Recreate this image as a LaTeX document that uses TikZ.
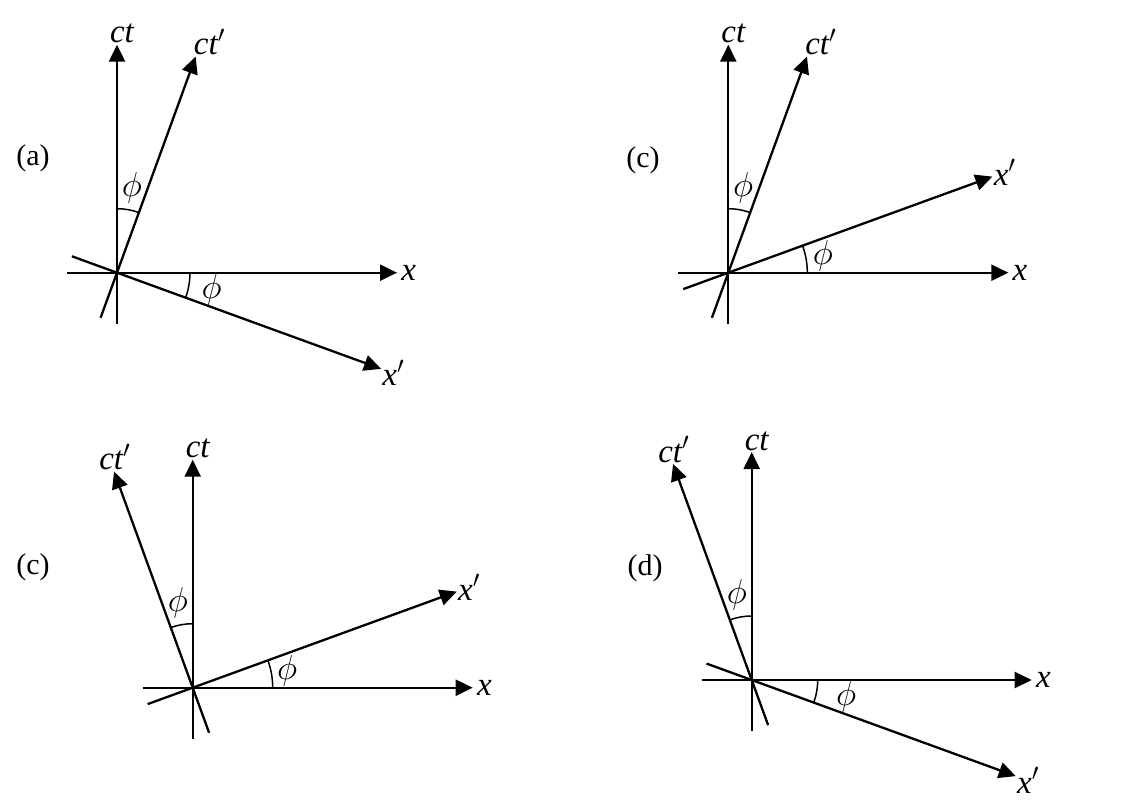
\documentclass[tikz,border=0pt]{standalone}
\usepackage{fontspec}
\setmainfont{Liberation Serif}
\usetikzlibrary{arrows.meta}
\usetikzlibrary{positioning}

\begin{document}
\begin{tikzpicture}[x=0.5pt,y=0.5pt]
\tikzset{axis/.style = {line width=1.15pt, -{Triangle[length=8.5pt,width=8pt]}}}
\tikzset{angarc/.style = {line width=0.75pt}}
\tikzset{lbl/.style = {font=\fontsize{16.5}{18}\selectfont\itshape, inner sep=0pt}}
\tikzset{philbl/.style = {font=\fontsize{18}{20}\selectfont, inner sep=0pt}}
\tikzset{tag/.style = {font=\fontsize{15}{17}\selectfont, inner sep=0pt}}
\useasboundingbox (0,0) rectangle (1127,809);

% one panel per entry: origin, ct' angle, x' angle, x arc radius, ct' label shift, tag
\foreach \ox/\oy/\ta/\xa/\rx/\cs/\tl/\lx/\ly in
  {117/536.3/70/-20/73/7/{(a)}/33/651,
   728.3/536.3/70/20/79/7/{(c)}/643/649,
   192.7/121.3/110/20/80/0.5/{(c)}/33/242,
   751.7/129/110/-20/66/0.5/{(d)}/645/241}
{
\node[tag] (tag) at (\lx,\ly) {\tl};
\begin{scope}[shift={(\ox,\oy)}]
\coordinate (o) at (0,0);
\coordinate (ctEnd) at (90:228);
\coordinate (ctStart) at (-90:51);
\coordinate (ctpEnd) at (\ta:230);
\coordinate (ctpStart) at (\ta+180:48);
\coordinate (xEnd) at (0:280);
\coordinate (xStart) at (180:50);
\coordinate (xpEnd) at (\xa:281);
\coordinate (xpStart) at (\xa+180:48);

\draw[axis] (ctStart) -- (ctEnd);
\draw[axis] (ctpStart) -- (ctpEnd);
\draw[axis] (xStart) -- (xEnd);
\draw[axis] (xpStart) -- (xpEnd);

\draw[angarc] (90:64) arc[start angle=90, end angle=\ta, radius=64];
\draw[angarc] (0:\rx) arc[start angle=0, end angle=\xa, radius=\rx];
\node[philbl] (phiT) at ({(90+\ta)/2}:86) {$\phi$};
\node[philbl] (phiX) at ({\xa/2}:96) {$\phi$};

\node[lbl, above=0.5pt of ctEnd, xshift=2.5pt] (ctLab) {ct};
\node[lbl, above=0.5pt of ctpEnd, xshift=\cs pt] (ctpLab) {ct$'$};
\node[lbl, right=2pt of xEnd] (xLab) {x};
\node[lbl, right=0.5pt of xpEnd, yshift={0.1pt*\xa}] (xpLab) {x$'$};
\end{scope}
}
\end{tikzpicture}
\end{document}
